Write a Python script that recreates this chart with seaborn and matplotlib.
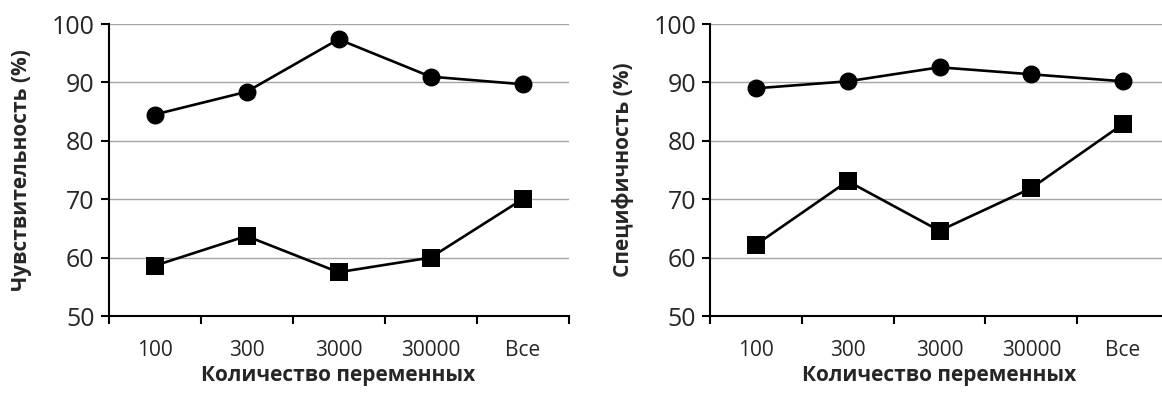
import matplotlib
matplotlib.use("Agg")
import matplotlib.pyplot as plt
import seaborn as sns
import pandas as pd

categories = ["100", "300", "3000", "30000", "Все"]
sens_circle = [84.5, 88.4, 97.4, 91.0, 89.7]
sens_square = [58.6, 63.7, 57.5, 60.0, 70.0]
spec_circle = [89.0, 90.2, 92.6, 91.4, 90.2]
spec_square = [62.2, 73.1, 64.6, 71.9, 82.9]
ylabels = ["Чувствительность (%)", "Специфичность (%)"]
xlabel = "Количество переменных"
yticks = [50, 60, 70, 80, 90, 100]

sns.set_theme(style="white")
plt.rcParams["font.family"] = ["Open Sans", "DejaVu Sans"]

fig = plt.figure(figsize=(11.62, 3.95), dpi=100)
ax1 = fig.add_axes([108.5 / 1162, 0.2, 460 / 1162, 0.739])
ax2 = fig.add_axes([710 / 1162, 0.2, 459 / 1162, 0.739])

panels = [(ax1, sens_circle, sens_square, ylabels[0]),
          (ax2, spec_circle, spec_square, ylabels[1])]

for ax, circ, sq, yl in panels:
    df_c = pd.DataFrame({"cat": categories, "val": circ})
    df_s = pd.DataFrame({"cat": categories, "val": sq})
    sns.pointplot(data=df_c, x="cat", y="val", order=categories, color="black",
                  markers="o", linestyles="-", ax=ax,
                  markersize=11.5, linewidth=1.9, zorder=3)
    sns.pointplot(data=df_s, x="cat", y="val", order=categories, color="black",
                  markers="s", linestyles="-", ax=ax,
                  markersize=11.5, linewidth=1.9, zorder=3)
    ax.set_xlim(-0.5, 4.5)
    ax.set_ylim(50, 100)
    ax.set_yticks(yticks)
    ax.set_yticklabels([str(v) for v in yticks], fontsize=18)
    ax.yaxis.grid(True, color="#a6a6a6", linewidth=1)
    ax.xaxis.grid(False)
    ax.set_axisbelow(True)
    for s in ["top", "right"]:
        ax.spines[s].set_visible(False)
    for s in ["left", "bottom"]:
        ax.spines[s].set_color("black")
        ax.spines[s].set_linewidth(1.5)
    ax.set_xticks(range(len(categories)))
    ax.set_xticklabels(categories, fontsize=15)
    ax.set_xticks([-0.5, 0.5, 1.5, 2.5, 3.5, 4.5], minor=True)
    ax.tick_params(axis="x", which="major", length=0, pad=17)
    ax.tick_params(axis="x", which="minor", length=6, width=1.5, color="black",
                   direction="out", bottom=True)
    ax.tick_params(axis="y", which="major", length=6, width=1.5, color="black",
                   direction="out", left=True, pad=4)
    ax.set_ylabel(yl, fontsize=15, fontweight="bold")
    ax.set_xlabel(xlabel, fontsize=15, fontweight="bold")
    ax.yaxis.set_label_coords(-87 / 460, 0.5)
    ax.yaxis.label.set_va("center")
    ax.xaxis.set_label_coords(0.5, -60 / 292)
    ax.xaxis.label.set_va("center")

fig.savefig("out.png", dpi=100)
